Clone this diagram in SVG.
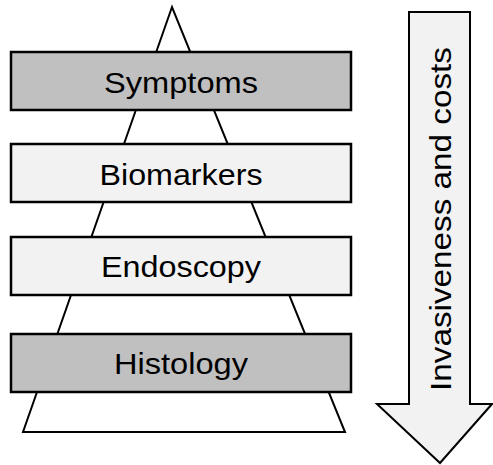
<svg xmlns="http://www.w3.org/2000/svg" width="493" height="465" viewBox="0 0 493 465">
<style>
.ln{fill:#fff;stroke:#000;stroke-width:2;stroke-linejoin:miter}
.dark{fill:#c0c0c0;stroke:#000;stroke-width:2.5}
.light{fill:#f2f2f2;stroke:#000;stroke-width:2.5}
.lbl{font-family:"Liberation Sans",Arial,sans-serif;font-size:30px;fill:#000;text-anchor:middle}
</style>
<rect width="493" height="465" fill="#fff"/>
<g id="connectors">
<polygon id="pyramid" class="ln" points="172,7 23,432 345,432"/>
</g>
<g id="symptoms">
<rect class="dark" x="11" y="52" width="340" height="58"/>
<text class="lbl" x="181" y="93" textLength="154" lengthAdjust="spacingAndGlyphs">Symptoms</text>
</g>
<g id="biomarkers">
<rect class="light" x="11" y="144" width="340" height="58"/>
<text class="lbl" x="181" y="185" textLength="163" lengthAdjust="spacingAndGlyphs">Biomarkers</text>
</g>
<g id="endoscopy">
<rect class="light" x="11" y="237" width="340" height="58"/>
<text class="lbl" x="181" y="277" textLength="160" lengthAdjust="spacingAndGlyphs">Endoscopy</text>
</g>
<g id="histology">
<rect class="dark" x="11" y="334" width="340" height="58"/>
<text class="lbl" x="181" y="374" textLength="134" lengthAdjust="spacingAndGlyphs">Histology</text>
</g>
<g id="arrow">
<polygon fill="#f2f2f2" stroke="#000" stroke-width="2" points="409,12 470,12 470,404 492,404 440,463 377,404 409,404"/>
<text class="lbl" transform="translate(451,219) rotate(-90)" x="0" y="0" textLength="344" lengthAdjust="spacingAndGlyphs">Invasiveness and costs</text>
</g>
</svg>
